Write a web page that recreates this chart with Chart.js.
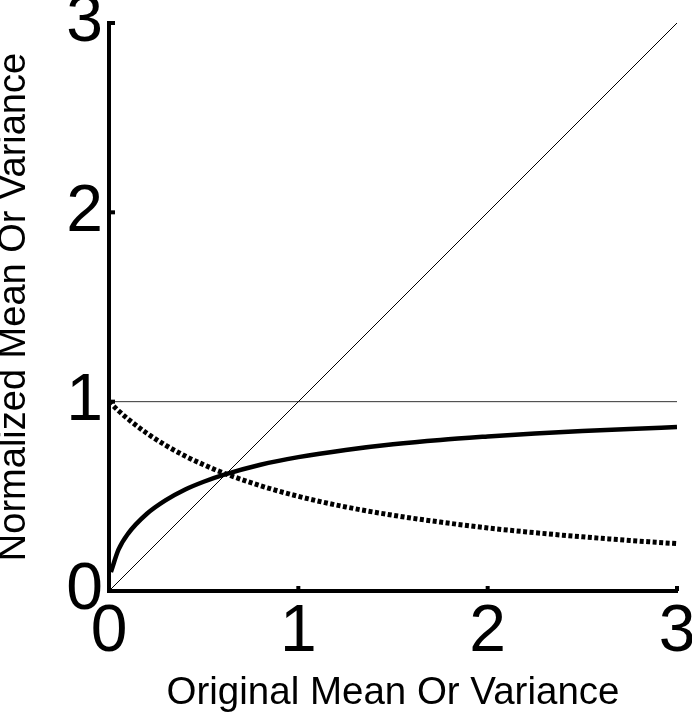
<!DOCTYPE html>
<html>
<head>
<meta charset="utf-8">
<script src="https://cdn.jsdelivr.net/npm/chart.js@4"></script>
<style>
  html, body { margin: 0; padding: 0; background: #fff; }
  #wrap { width: 692px; height: 719px; }
</style>
</head>
<body>
<div id="wrap"><canvas id="chart"></canvas></div>
<script>
// values
var xValues = [0.01, 0.05, 0.1, 0.2, 0.3, 0.4, 0.5, 0.6, 0.8, 1.0, 1.25, 1.5, 1.75, 2.0, 2.25, 2.5, 2.75, 3.0];
var solidValues = [0.100, 0.218, 0.302, 0.408, 0.480, 0.535, 0.577, 0.612, 0.667, 0.707, 0.745, 0.775, 0.798, 0.816, 0.832, 0.845, 0.856, 0.866];
var dashedX = [0, 0.05, 0.1, 0.2, 0.3, 0.4, 0.5, 0.6, 0.8, 1.0, 1.25, 1.5, 1.75, 2.0, 2.25, 2.5, 2.75, 3.0];
var dashedValues = [1.0, 0.952, 0.909, 0.833, 0.769, 0.714, 0.667, 0.625, 0.556, 0.500, 0.444, 0.400, 0.364, 0.333, 0.308, 0.286, 0.267, 0.250];
var refX = [0, 3];
var diagonalValues = [0, 3];
var unityValues = [1, 1];
var tickValues = [0, 1, 2, 3];

function toPoints(xs, ys) {
    return xs.map(function (x, i) { return { x: x, y: ys[i] }; });
}

var FONT = "'Liberation Sans', Arial, sans-serif";

// small tick marks pointing into the plot
var innerTicks = {
    id: 'innerTicks',
    afterDatasetsDraw: function (chart) {
        var ctx = chart.ctx;
        var xs = chart.scales.x, ys = chart.scales.y;
        var area = chart.chartArea;
        ctx.save();
        ctx.strokeStyle = '#000';
        ctx.lineWidth = 4;
        tickValues.forEach(function (v) {
            if (v === 0) return;
            var px = xs.getPixelForValue(v);
            ctx.beginPath();
            ctx.moveTo(px, area.bottom);
            ctx.lineTo(px, area.bottom - 5);
            ctx.stroke();
            var py = ys.getPixelForValue(v);
            ctx.beginPath();
            ctx.moveTo(area.left, py);
            ctx.lineTo(area.left + 6, py);
            ctx.stroke();
        });
        ctx.restore();
    }
};

var ctx = document.getElementById('chart');
var chart = new Chart(ctx.getContext('2d'), {
    type: 'line',
    data: {
        datasets: [{
            data: toPoints(refX, diagonalValues),
            borderColor: '#000',
            borderWidth: 1,
            pointRadius: 0
        }, {
            data: toPoints(refX, unityValues),
            borderColor: '#333',
            borderWidth: 1,
            pointRadius: 0
        }, {
            data: toPoints(dashedX, dashedValues),
            borderColor: '#000',
            borderWidth: 5,
            borderDash: [4, 2.5],
            cubicInterpolationMode: 'monotone',
            pointRadius: 0
        }, {
            data: toPoints(xValues, solidValues),
            borderColor: '#000',
            borderWidth: 4.5,
            cubicInterpolationMode: 'monotone',
            pointRadius: 0
        }]
    },
    options: {
        responsive: true,
        maintainAspectRatio: false,
        animation: false,
        layout: { padding: { top: 23, right: 15, left: 0, bottom: 0 } },
        plugins: {
            legend: { display: false },
            tooltip: { enabled: false }
        },
        scales: {
            x: {
                type: 'linear',
                min: 0,
                max: 3,
                afterFit: function (scale) {
                    scale.height = 128;
                    scale.paddingLeft = 0;
                    scale.paddingRight = 0;
                },
                grid: { display: false, drawTicks: false },
                border: { display: true, color: '#000', width: 4 },
                ticks: {
                    stepSize: 1,
                    padding: 2,
                    color: '#000',
                    maxRotation: 0,
                    font: { family: FONT, size: 66 }
                },
                title: {
                    display: true,
                    text: 'Original Mean Or Variance',
                    color: '#000',
                    font: { family: FONT, size: 38.5, lineHeight: 1 },
                    padding: { top: 0, bottom: 6 }
                }
            },
            y: {
                type: 'linear',
                min: 0,
                max: 3,
                afterFit: function (scale) {
                    scale.width = 109;
                    scale.paddingTop = 0;
                    scale.paddingBottom = 0;
                },
                grid: { display: false, drawTicks: false },
                border: { display: true, color: '#000', width: 4 },
                ticks: {
                    stepSize: 1,
                    padding: 6,
                    color: '#000',
                    font: { family: FONT, size: 66 }
                },
                title: {
                    display: true,
                    text: 'Normalized Mean Or Variance',
                    color: '#000',
                    font: { family: FONT, size: 38, lineHeight: 1 },
                    padding: { top: -4, bottom: 0 }
                }
            }
        }
    },
    plugins: [innerTicks]
});
</script>
</body>
</html>
